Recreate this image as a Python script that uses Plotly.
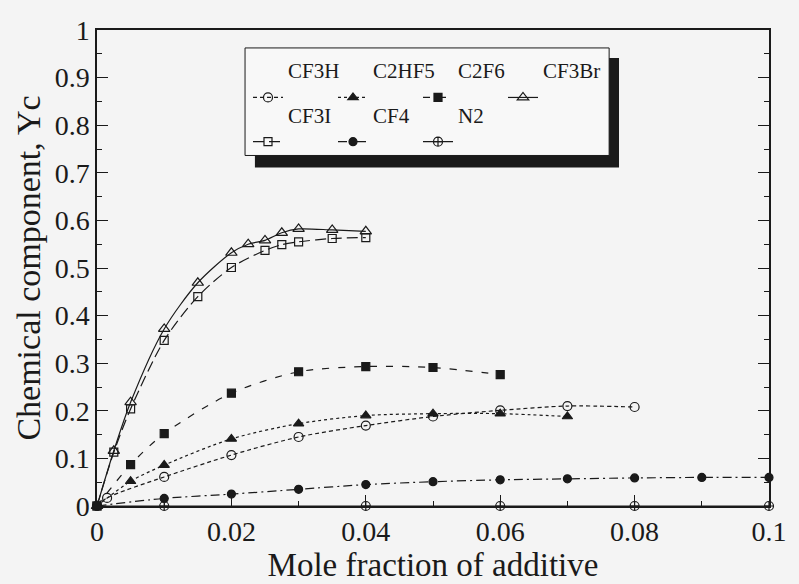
import plotly.graph_objects as go

# ---- data ----
cf3h_x = [0, 0.0015, 0.01, 0.02, 0.03, 0.04, 0.05, 0.06, 0.07, 0.08]
cf3h_y = [0, 0.017, 0.061, 0.107, 0.145, 0.169, 0.188, 0.201, 0.210, 0.208]

c2hf5_x = [0, 0.005, 0.01, 0.02, 0.03, 0.04, 0.05, 0.06, 0.07]
c2hf5_y = [0, 0.052, 0.086, 0.141, 0.173, 0.190, 0.194, 0.194, 0.188]

c2f6_x = [0, 0.005, 0.01, 0.02, 0.03, 0.04, 0.05, 0.06]
c2f6_y = [0, 0.087, 0.152, 0.237, 0.282, 0.293, 0.291, 0.276]

cf3br_x = [0, 0.0025, 0.005, 0.01, 0.015, 0.02, 0.0225, 0.025, 0.0275, 0.03, 0.035, 0.04]
cf3br_y = [0, 0.116, 0.218, 0.372, 0.469, 0.532, 0.550, 0.558, 0.574, 0.582, 0.580, 0.577]

cf3i_x = [0, 0.0025, 0.005, 0.01, 0.015, 0.02, 0.025, 0.0275, 0.03, 0.035, 0.04]
cf3i_y = [0, 0.113, 0.204, 0.348, 0.440, 0.501, 0.537, 0.549, 0.555, 0.562, 0.564]

cf4_x = [0, 0.01, 0.02, 0.03, 0.04, 0.05, 0.06, 0.07, 0.08, 0.09, 0.1]
cf4_y = [0, 0.016, 0.025, 0.035, 0.045, 0.051, 0.055, 0.057, 0.059, 0.060, 0.060]

n2_x = [0, 0.01, 0.04, 0.06, 0.08, 0.1]
n2_y = [0, 0, 0, 0, 0, 0]

x_ticks = [0, 0.02, 0.04, 0.06, 0.08, 0.1]
x_ticktext = ["0", "0.02", "0.04", "0.06", "0.08", "0.1"]
y_ticks = [0, 0.1, 0.2, 0.3, 0.4, 0.5, 0.6, 0.7, 0.8, 0.9, 1]
y_ticktext = ["0", "0.1", "0.2", "0.3", "0.4", "0.5", "0.6", "0.7", "0.8", "0.9", "1"]

INK = "#1a1a1a"
BG = "#f4f4f4"
FONT = "Liberation Serif"

# name, x, y, symbol, dash, marker size, legend, legend slot width
series = [
    ("CF3H", cf3h_x, cf3h_y, "circle-open", "4px,3px", 9, "legend", 40),
    ("C2HF5", c2hf5_x, c2hf5_y, "triangle-up", "dot", 9, "legend", 40),
    ("C2F6", c2f6_x, c2f6_y, "square", "7px,9px", 8, "legend", 40),
    ("CF3Br", cf3br_x, cf3br_y, "triangle-up-open", "solid", 10, "legend", 68),
    ("CF3I", cf3i_x, cf3i_y, "square-open", "11px,5px", 8, "legend2", 40),
    ("CF4", cf4_x, cf4_y, "circle", "9px,4px,2px,4px", 8, "legend2", 40),
    ("N2", n2_x, n2_y, "circle-cross-open", "solid", 9, "legend2", 40),
]

fig = go.Figure()
for name, xs, ys, sym, dash, size, leg, lw in series:
    fig.add_trace(go.Scatter(
        x=xs, y=ys, name=name + "<br> ", mode="lines+markers",
        line=dict(color=INK, width=1.2, dash=dash, shape="spline", smoothing=0.8),
        marker=dict(symbol=sym, size=size, color=INK, line=dict(color=INK, width=1.2)),
        cliponaxis=False, legend=leg, legendwidth=lw,
    ))

# legend frame with drop shadow
fig.add_shape(type="rect", xref="paper", yref="paper",
              x0=0.235, x1=0.7768, y0=0.7113, y1=0.9414,
              fillcolor=INK, line=dict(width=0), layer="above")
fig.add_shape(type="rect", xref="paper", yref="paper",
              x0=0.2203, x1=0.7621, y0=0.7364, y1=0.9623,
              fillcolor="#f8f8f8", line=dict(color=INK, width=1), layer="above")

leg_common = dict(
    xanchor="left", yanchor="top", orientation="h",
    bgcolor="rgba(0,0,0,0)", borderwidth=0,
    font=dict(family=FONT, size=21, color=INK),
    entrywidthmode="pixels", itemwidth=30, valign="bottom",
)

fig.update_layout(
    width=799, height=584,
    margin=dict(l=97, r=21, t=30, b=74),
    paper_bgcolor=BG, plot_bgcolor=BG,
    font=dict(family=FONT, size=26, color=INK),
    showlegend=True,
    legend=dict(x=0.2247, y=0.958, **leg_common),
    legend2=dict(x=0.2247, y=0.865, **leg_common),
    xaxis=dict(
        range=[0, 0.1], tickvals=x_ticks, ticktext=x_ticktext,
        ticks="inside", ticklen=11, tickwidth=1.2, tickcolor=INK,
        minor=dict(dtick=0.01, ticks="inside", ticklen=5, tickcolor=INK),
        showline=True, linecolor=INK, linewidth=1.5, mirror=True,
        showgrid=False, zeroline=False,
        title=dict(text="Mole fraction of additive",
                   font=dict(family=FONT, size=33, color=INK), standoff=2),
        tickfont=dict(family=FONT, size=28, color=INK),
    ),
    yaxis=dict(
        range=[0, 1], tickvals=y_ticks, ticktext=y_ticktext,
        ticks="inside", ticklen=11, tickwidth=1.2, tickcolor=INK,
        minor=dict(dtick=0.05, ticks="inside", ticklen=5, tickcolor=INK),
        showline=True, linecolor=INK, linewidth=1.5, mirror="ticks",
        showgrid=False, zeroline=False,
        title=dict(text="Chemical component, Yc",
                   font=dict(family=FONT, size=34, color=INK), standoff=4),
        tickfont=dict(family=FONT, size=28, color=INK),
    ),
)

fig.write_html("out.html")
